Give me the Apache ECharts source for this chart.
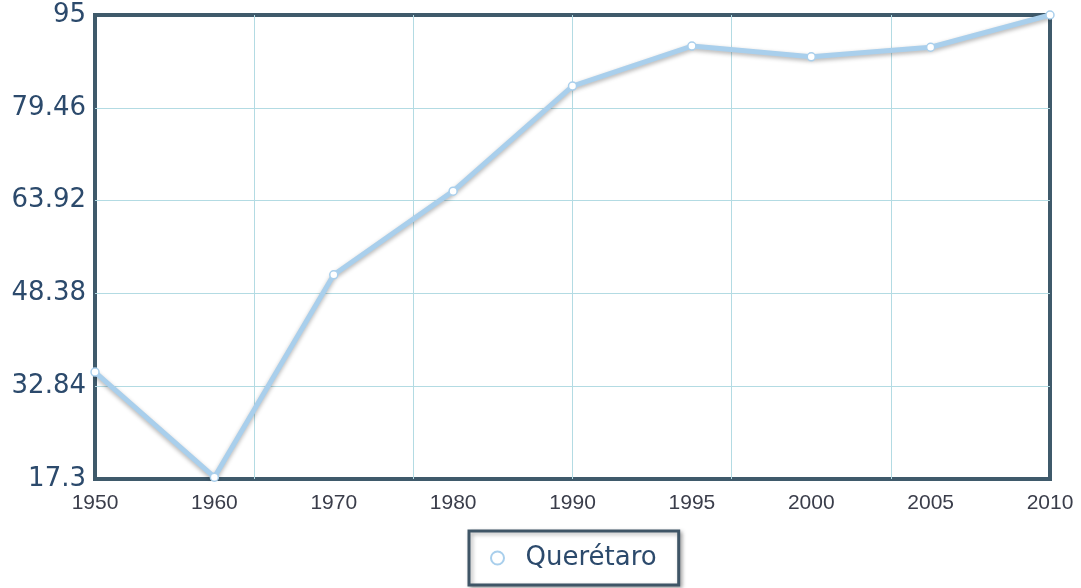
<!DOCTYPE html>
<html>
<head>
<meta charset="utf-8">
<style>
  html, body { margin: 0; padding: 0; background: #fff; }
  #chart { width: 1081px; height: 588px; }
</style>
<script src="https://cdn.jsdelivr.net/npm/echarts@6/dist/echarts.min.js"></script>
</head>
<body>
<div id="chart"></div>
<script>
const years = ['1950', '1960', '1970', '1980', '1990', '1995', '2000', '2005', '2010'];
const queretaro = [35.2, 17.6, 51.5, 65.5, 83.1, 89.8, 88.0, 89.6, 95];
const yTicks = [17.3, 32.84, 48.38, 63.92, 79.46, 95];

const lineColor = '#a9cfec';
const gridColor = '#b3dbe3';

const myChart = echarts.init(document.getElementById('chart'));
myChart.setOption({
  animation: false,
  grid: {
    left: 95,
    right: 31,
    top: 15,
    bottom: 109,
    show: true,
    borderColor: '#3f5a6b',
    borderWidth: 4,
    backgroundColor: 'transparent'
  },
  legend: {
    left: 469,
    top: 531,
    orient: 'horizontal',
    padding: [13, 22, 13, 21],
    itemWidth: 14,
    itemHeight: 13,
    icon: 'circle',
    borderColor: '#3f5566',
    borderWidth: 3,
    backgroundColor: '#fff',
    shadowColor: 'rgba(0,0,0,0.3)',
    shadowBlur: 4,
    shadowOffsetX: 2,
    shadowOffsetY: 2,
    itemStyle: {
      color: '#fff',
      borderColor: lineColor,
      borderWidth: 2
    },
    textStyle: {
      fontFamily: 'DejaVu Sans',
      fontSize: 26,
      lineHeight: 28,
      padding: [0, 0, 0, 16],
      color: '#2c4a6c'
    },
    data: ['Querétaro']
  },
  xAxis: [
    {
      type: 'category',
      boundaryGap: false,
      data: years,
      axisLine: { show: false },
      axisTick: { show: false },
      splitLine: { show: false },
      axisLabel: {
        margin: 14,
        fontFamily: 'Liberation Sans',
        fontSize: 21,
        color: '#3a3d4a'
      }
    },
    {
      type: 'value',
      min: 0,
      max: 6,
      interval: 1,
      position: 'bottom',
      axisLine: { show: false },
      axisTick: { show: false },
      axisLabel: { show: false },
      splitLine: {
        show: true,
        showMinLine: false,
        showMaxLine: false,
        lineStyle: { color: gridColor, width: 1 }
      }
    }
  ],
  yAxis: {
    type: 'value',
    min: yTicks[0],
    max: yTicks[yTicks.length - 1],
    axisLine: { show: false },
    axisTick: { show: false, customValues: yTicks },
    axisLabel: {
      customValues: yTicks,
      margin: 9,
      fontFamily: 'DejaVu Sans',
      fontSize: 26,
      color: '#2c4a6c',
      formatter: function (v) {
        return String(v);
      }
    },
    splitLine: {
      show: true,
      showMinLine: false,
      showMaxLine: false,
      lineStyle: { color: gridColor, width: 1 }
    }
  },
  series: [
    {
      name: 'Querétaro',
      type: 'line',
      xAxisIndex: 0,
      data: queretaro,
      symbol: 'circle',
      symbolSize: 8,
      showSymbol: true,
      lineStyle: {
        color: lineColor,
        width: 5,
        shadowColor: 'rgba(0,0,0,0.3)',
        shadowBlur: 4,
        shadowOffsetY: 2
      },
      itemStyle: {
        color: '#fff',
        borderColor: lineColor,
        borderWidth: 1.5
      }
    }
  ]
});
</script>
</body>
</html>
